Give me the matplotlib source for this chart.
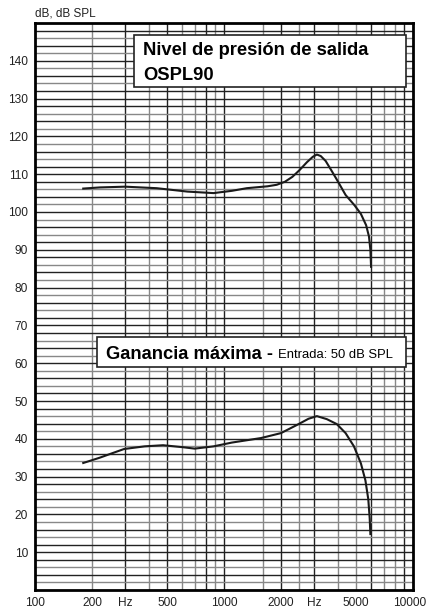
import matplotlib.pyplot as plt
import matplotlib.transforms as mtransforms

# OSPL90 curve (Hz, dB SPL)
ospl_freq = [180, 220, 300, 440, 640, 880, 1100, 1320, 1700, 1900, 2100,
             2300, 2500, 2750, 2950, 3100, 3250, 3450, 3700, 3950, 4400,
             4900, 5300, 5650, 5850, 5950, 6000]
ospl_level = [106.2, 106.5, 106.7, 106.3, 105.4, 105.0, 105.6, 106.3, 106.8,
              107.2, 108.0, 109.3, 111.0, 113.2, 114.6, 115.2, 114.8, 113.5,
              111.0, 108.6, 104.5, 101.8, 99.5, 96.5, 93.5, 90.0, 85.5]

# full-on gain curve (Hz, dB)
gain_freq = [180, 220, 260, 296, 380, 476, 600, 700, 880, 1100, 1570, 2000,
             2440, 2800, 3100, 3500, 3950, 4400, 4870, 5300, 5600, 5800,
             5900, 5950]
gain_level = [33.6, 35.0, 36.3, 37.3, 38.0, 38.3, 37.8, 37.4, 38.0, 39.0,
              40.2, 41.5, 43.7, 45.3, 46.0, 45.2, 43.9, 41.5, 38.0, 33.5,
              29.0, 24.0, 19.0, 14.8]

x_ticks = [100, 200, 300, 500, 1000, 2000, 3000, 5000, 10000]
x_labels = ['100', '200', 'Hz', '500', '1000', '2000', 'Hz', '5000', '10000']
y_ticks = list(range(10, 150, 10))

# vertical grid lines and which ones print dark
v_lines = [200, 300, 400, 500, 600, 700, 800, 900, 1000, 1600, 2000, 2500,
           3000, 4000, 5000, 6000, 7000, 8000, 9000]
v_dark = [300, 500, 800, 1000, 2000, 3000, 6000, 9000]

plt.rcParams['font.family'] = ['Liberation Sans', 'DejaVu Sans']

fig = plt.figure(figsize=(4.28, 6.09), dpi=100)
ax = fig.add_axes([35 / 428, 1 - 590 / 609, 378 / 428, 567 / 609])
ax.set_xscale('log')
ax.set_xlim(100, 10000)
ax.set_ylim(0, 150)

for f in v_lines:
    c = '#222222' if f in v_dark else '#888888'
    ax.axvline(f, color=c, lw=1.0, zorder=1)
for v in range(2, 150, 2):
    c = '#222222' if (v % 4 == 0 or v % 10 == 0) else '#888888'
    ax.axhline(v, color=c, lw=1.0, zorder=1)

ax.plot(ospl_freq, ospl_level, color='#1a1a1a', lw=1.5, zorder=3)
ax.plot(gain_freq, gain_level, color='#1a1a1a', lw=1.5, zorder=3)

ax.set_xticks(x_ticks)
ax.set_xticklabels(x_labels)
ax.minorticks_off()
ax.set_yticks(y_ticks)
ax.tick_params(length=0, labelsize=8.6, pad=5, colors='#222222')
ax.tick_params(axis='x', pad=5)
for s in ax.spines.values():
    s.set_linewidth(2)
    s.set_zorder(5)

# keep "10000" inside the picture
last = ax.get_xticklabels()[-1]
last.set_transform(last.get_transform() +
                   mtransforms.ScaledTranslation(-3 / 100, 0, fig.dpi_scale_trans))

fig.text(35 / 428, 1 - 13 / 609, 'dB, dB SPL', fontsize=8.5, va='center',
         ha='left', color='#222222')

# title boxes
ax.add_patch(plt.Rectangle((0.262, 0.887), 0.719, 0.092, transform=ax.transAxes,
                           fc='white', ec='#222222', lw=1.2, zorder=5))
ax.text(0.286, 0.952, 'Nivel de presión de salida', transform=ax.transAxes,
        fontsize=13.2, fontweight='bold', va='center', ha='left', zorder=6)
ax.text(0.286, 0.908, 'OSPL90', transform=ax.transAxes,
        fontsize=13.2, fontweight='bold', va='center', ha='left', zorder=6)

ax.add_patch(plt.Rectangle((0.164, 0.393), 0.817, 0.053, transform=ax.transAxes,
                           fc='white', ec='#222222', lw=1.2, zorder=5))
t = ax.text(0.188, 0.416, 'Ganancia máxima - ', transform=ax.transAxes,
            fontsize=13.2, fontweight='bold', va='center', ha='left', zorder=6)
fig.canvas.draw()
bb = t.get_window_extent().transformed(ax.transAxes.inverted())
ax.text(bb.x1, 0.415, 'Entrada: 50 dB SPL', transform=ax.transAxes,
        fontsize=9.4, va='center', ha='left', zorder=7)

fig.savefig('out.png', dpi=100)
